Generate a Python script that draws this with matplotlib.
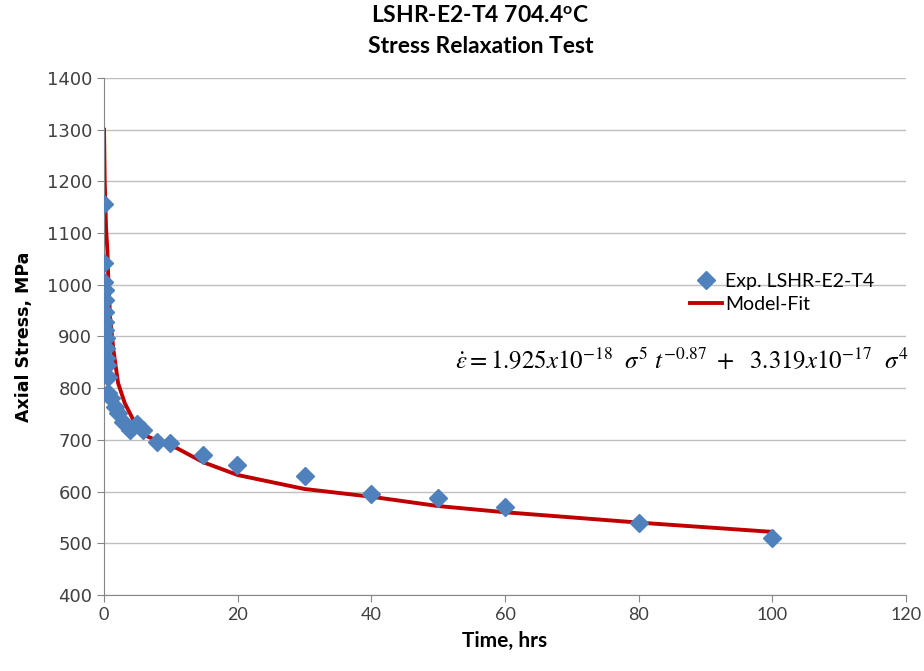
import matplotlib.pyplot as plt

# experimental points (time in hrs, stress in MPa)
exp_t = [0.0, 0.02, 0.05, 0.08, 0.1, 0.13, 0.16, 0.2, 0.25, 0.3, 0.35, 0.45,
         0.6, 0.65, 1.1, 1.6, 2.1, 2.8, 3.9, 4.9, 5.8, 7.9, 9.9, 14.8, 19.9,
         30, 40, 50, 60, 80, 100]
exp_s = [1156, 1042, 1005, 990, 970, 947, 928, 913, 897, 878, 858, 845,
         822, 791, 781, 764, 752, 735, 720, 731, 720, 696, 694, 671, 652,
         630, 596, 587, 570, 540, 511]

# model fit curve
fit_t = [0.0, 0.1, 0.3, 0.5, 0.65, 0.9, 1.4, 2.1, 3.1, 4.6, 6.6, 8.8, 10.9,
         14.8, 20, 30, 40, 50, 60, 80, 100]
fit_s = [1300, 1200, 1110, 1067, 1005, 938, 874, 810, 771, 733, 706, 694, 684,
         657, 632, 605, 590, 572, 560, 540, 522]

xticks = [0, 20, 40, 60, 80, 100, 120]
yticks = [400, 500, 600, 700, 800, 900, 1000, 1100, 1200, 1300, 1400]

plt.rcParams['font.family'] = ['Lato', 'DejaVu Sans']
plt.rcParams['mathtext.fontset'] = 'stix'

fig = plt.figure(figsize=(9.24, 6.71), dpi=100)
ax = fig.add_axes([0.1126, 0.1133, 0.868, 0.7705])

ax.plot(fit_t, fit_s, color='#c00000', linewidth=2.8, label='Model-Fit', zorder=2)
ax.plot(exp_t, exp_s, linestyle='none', marker='D', markersize=9,
        color='#4f81bd', label='Exp. LSHR-E2-T4', zorder=3)

ax.set_xlim(0, 120)
ax.set_ylim(400, 1400)
ax.set_xticks(xticks)
ax.set_yticks(yticks)
ax.tick_params(colors='#404040', length=5, color='#868686')
for lab in ax.get_yticklabels():
    lab.set_fontfamily('DejaVu Sans')
    lab.set_fontsize(13)
for lab in ax.get_xticklabels():
    lab.set_fontsize(13)
ax.grid(axis='y', color='#bfbfbf', linewidth=1)
ax.set_axisbelow(True)
for s in ['top', 'right']:
    ax.spines[s].set_visible(False)
for s in ['left', 'bottom']:
    ax.spines[s].set_color('#868686')

ax.set_xlabel('Time, hrs', fontsize=15, fontweight='bold', labelpad=6)
ax.set_ylabel('Axial Stress, MPa', fontsize=12.5, fontweight='bold',
              family='DejaVu Sans', labelpad=10)
fig.text(0.52, 0.992, 'LSHR-E2-T4 704.4$^{\\mathregular{o}}$C\nStress Relaxation Test',
         ha='center', va='top', fontsize=16.5, fontweight='bold', linespacing=1.58)

h, l = ax.get_legend_handles_labels()
ax.legend(h[::-1], l[::-1], loc='upper left', bbox_to_anchor=(0.731, 0.623),
          frameon=False, fontsize=14, handlelength=1.65, handletextpad=0.15,
          labelspacing=0.3, borderpad=0, borderaxespad=0)

ax.text(0.438, 0.455,
        r'$\dot{\varepsilon}=1.925x10^{-18}\ \ \sigma^5\ t^{-0.87}\ +\ \ 3.319x10^{-17}\ \ \sigma^4$',
        transform=ax.transAxes, fontsize=17.9, ha='left', va='center')

plt.savefig('out.png', dpi=100)
